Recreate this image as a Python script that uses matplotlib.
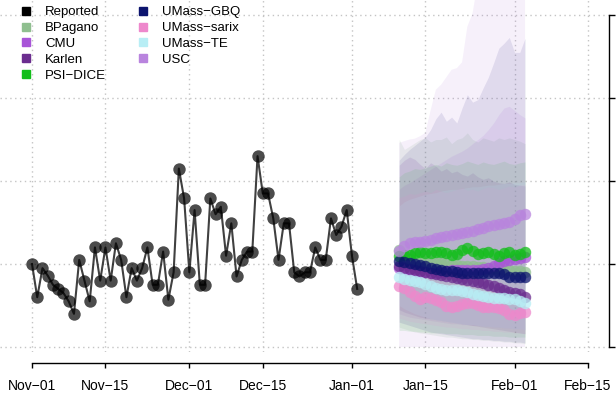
import numpy as np
import pandas as pd
import matplotlib
matplotlib.use('Agg')
import matplotlib.pyplot as plt
import matplotlib.dates as mdates
from matplotlib.lines import Line2D

plt.rcParams['font.family'] = ['Liberation Sans', 'DejaVu Sans']

# ── Datos observados (diarios) ──
obs_dates = pd.date_range('2020-11-01', '2021-01-02', freq='D')
reported = [100, 60, 95, 86, 75, 70, 65, 55, 40, 105, 80, 55, 120, 80, 120, 80,
            125, 105, 60, 95, 80, 95, 120, 75, 75, 115, 57, 90, 215, 179, 90, 165,
            75, 75, 179, 160, 169, 110, 149, 85, 105, 115, 115, 230, 185, 185, 155,
            105, 149, 149, 90, 85, 90, 90, 120, 105, 105, 155, 135, 145, 165, 110, 70]

# ── Pronósticos por modelo ──
fc_dates = pd.date_range('2021-01-10', '2021-02-03', freq='D')
models = ['BPagano', 'CMU', 'Karlen', 'PSI-DICE', 'UMass-GBQ', 'UMass-sarix', 'UMass-TE', 'USC']
colors = ['#8FBF8F', '#A855D8', '#6B2D8F', '#12BE1A', '#0C146E', '#EE88CC', '#B8EEF5', '#B984DE']

point = {
    'BPagano': [117, 107, 106, 105, 104, 104, 102, 102, 101, 101, 100, 99, 98, 98, 98,
                96, 96, 95, 95, 94, 93, 93, 92, 92, 90],
    'CMU': [95, 94, 93, 92, 90, 90, 89, 89, 90, 92, 93, 93, 93, 93, 93, 93, 94, 95,
            98, 101, 104, 105, 106, 107, 108],
    'Karlen': [98, 95, 94, 93, 92, 90, 89, 88, 87, 86, 84, 83, 82, 81, 80, 78, 77, 75,
               73, 71, 69, 66, 65, 64, 60],
    'PSI-DICE': [110, 111, 111, 113, 114, 113, 113, 114, 114, 113, 111, 112, 117, 119, 116,
                 112, 113, 114, 112, 110, 113, 114, 111, 112, 114],
    'UMass-GBQ': [104, 102, 101, 100, 99, 98, 95, 94, 93, 92, 92, 90, 89, 89, 89, 89,
                  89, 89, 89, 89, 88, 84, 84, 84, 84],
    'UMass-sarix': [73, 71, 66, 61, 58, 60, 59, 57, 54, 49, 48, 49, 52, 53, 53, 51, 48,
                    48, 48, 47, 45, 40, 39, 41, 42],
    'UMass-TE': [84, 82, 81, 80, 78, 76, 73, 71, 70, 69, 69, 69, 67, 66, 64, 63, 61, 60,
                 59, 59, 59, 58, 58, 55, 53],
    'USC': [116, 122, 125, 126, 126, 128, 129, 131, 132, 134, 135, 136, 137, 139, 140,
            142, 143, 146, 147, 148, 149, 151, 154, 159, 160],
}

upper = {
    'BPagano': [250, 238, 242, 246, 250, 252, 247, 250, 250, 253, 245, 250, 252, 258, 250,
                247, 252, 250, 248, 252, 250, 252, 250, 248, 245],
    'CMU': [190, 195, 198, 202, 206, 210, 214, 218, 222, 226, 230, 233, 236, 240, 245,
            250, 255, 262, 270, 280, 288, 290, 285, 280, 276],
    'Karlen': [219, 225, 229, 226, 220, 215, 222, 218, 212, 215, 210, 212, 208, 206, 210,
               205, 202, 204, 200, 198, 197, 199, 196, 195, 194],
    'PSI-DICE': [205, 210, 212, 215, 214, 216, 218, 220, 218, 222, 220, 219, 221, 224, 222,
                 220, 223, 221, 220, 222, 224, 221, 220, 222, 223],
    'UMass-GBQ': [225, 232, 238, 243, 248, 253, 262, 275, 283, 272, 277, 270, 288, 304, 295,
                  298, 312, 325, 342, 360, 366, 373, 355, 355, 372],
    'UMass-sarix': [180, 182, 185, 184, 186, 188, 186, 190, 188, 186, 188, 190, 192, 189, 190,
                    188, 191, 193, 192, 190, 192, 194, 193, 195, 196],
    'UMass-TE': [170, 175, 178, 180, 182, 184, 185, 186, 188, 189, 190, 190, 191, 192, 193,
                 193, 194, 195, 195, 196, 197, 197, 198, 198, 199],
    'USC': [246, 248, 250, 251, 254, 258, 285, 310, 316, 325, 334, 336, 343, 386, 402,
            440, 460, 480, 490, 500, 510, 520, 530, 540, 550],
}

lower = {
    'BPagano': [24, 22, 20, 18, 17, 16, 15, 14, 13, 12, 12, 11, 10, 10, 9, 9, 8, 8, 7, 7,
                6, 6, 5, 5, 4],
    'CMU': [40, 38, 36, 35, 34, 33, 32, 31, 30, 29, 28, 28, 27, 27, 26, 26, 25, 25, 24, 24,
            23, 23, 22, 22, 21],
    'Karlen': [45, 42, 40, 38, 36, 35, 34, 33, 32, 31, 30, 29, 28, 27, 26, 25, 24, 23, 22,
               21, 20, 19, 18, 17, 16],
    'PSI-DICE': [20, 20, 19, 19, 18, 18, 17, 17, 17, 16, 16, 16, 15, 15, 15, 14, 14, 14, 13,
                 13, 13, 12, 12, 12, 12],
    'UMass-GBQ': [30, 28, 26, 24, 22, 20, 18, 17, 16, 15, 14, 13, 12, 11, 10, 10, 9, 9, 8,
                  8, 7, 7, 6, 6, 5],
    'UMass-sarix': [35, 33, 31, 30, 29, 28, 27, 26, 25, 24, 24, 23, 22, 22, 21, 21, 20, 20,
                    19, 19, 18, 18, 17, 17, 16],
    'UMass-TE': [50, 46, 43, 40, 38, 36, 34, 33, 32, 31, 30, 29, 28, 27, 27, 26, 25, 25, 24,
                 24, 23, 23, 22, 22, 21],
    'USC': [0] * 25,
}
band_alpha = [0.16, 0.10, 0.12, 0.10, 0.10, 0.12, 0.16, 0.12]

tick_dates = pd.to_datetime(['2020-11-01', '2020-11-15', '2020-12-01', '2020-12-15',
                             '2021-01-01', '2021-01-15', '2021-02-01', '2021-02-15'])
tick_labels = ['Nov\u221201', 'Nov\u221215', 'Dec\u221201', 'Dec\u221215',
               'Jan\u221201', 'Jan\u221215', 'Feb\u221201', 'Feb\u221215']
y_ticks = [0, 100, 200, 300, 400]

# ── Figura ──
fig = plt.figure(figsize=(6.16, 3.96), dpi=100)
ax = fig.add_axes([0, 44 / 396, 609 / 616, 352 / 396])

x0 = mdates.date2num(pd.Timestamp('2020-11-01'))
px_day = 5.245
ax.set_xlim(x0 - 32 / px_day, x0 + (609 - 32) / px_day)
ax.set_ylim(-6.0, 418.1)

# intervalos
for m, c, a in zip(models, colors, band_alpha):
    ax.fill_between(fc_dates, lower[m], upper[m], color=c, alpha=a, lw=0, zorder=1)

# observados
ax.plot(obs_dates, reported, color='black', alpha=0.75, lw=1.5, zorder=3)
ax.scatter(obs_dates, reported, s=80, color='black', alpha=0.7, lw=0, zorder=4)

# puntos de pronóstico
for m, c in zip(models, colors):
    ax.scatter(fc_dates, point[m], s=68, color=c, alpha=0.75, lw=0, zorder=5)

# ── Ejes ──
ax.set_xticks(mdates.date2num(tick_dates))
ax.set_xticklabels(tick_labels, fontsize=10.8)
ax.set_yticks(y_ticks)
ax.yaxis.tick_right()
ax.tick_params(axis='y', labelright=False, direction='out', length=4.5, width=1)
ax.tick_params(axis='x', direction='out', length=3.5, width=1, pad=8)
for s in ['left', 'top']:
    ax.spines[s].set_visible(False)
ax.spines['bottom'].set_position(('outward', 8))
ax.spines['bottom'].set_bounds(mdates.date2num(tick_dates[0]), mdates.date2num(tick_dates[-1]))
ax.spines['right'].set_bounds(0, 400)
ax.spines['bottom'].set_linewidth(1)
ax.spines['right'].set_linewidth(1)
ax.grid(True, color='#c4c4c4', linestyle=(0, (1, 2.5)), lw=1)
ax.set_axisbelow(True)
ax.patch.set_alpha(0)

# ── Leyenda ──
handles = [Line2D([], [], marker='s', ls='', color='black', markersize=6)]
handles += [Line2D([], [], marker='s', ls='', color=c, markersize=6) for c in colors]
labels = ['Reported'] + [m.replace('-', '\u2212') for m in models]
fig.legend(handles, labels, ncol=2, loc='upper left',
           bbox_to_anchor=(19.4 / 616, 1 - 6 / 396), frameon=False, fontsize=9.5,
           handlelength=1.0, handletextpad=0.94, columnspacing=2.3,
           labelspacing=0.28, borderpad=0, borderaxespad=0)

fig.savefig('out.png', dpi=100)
